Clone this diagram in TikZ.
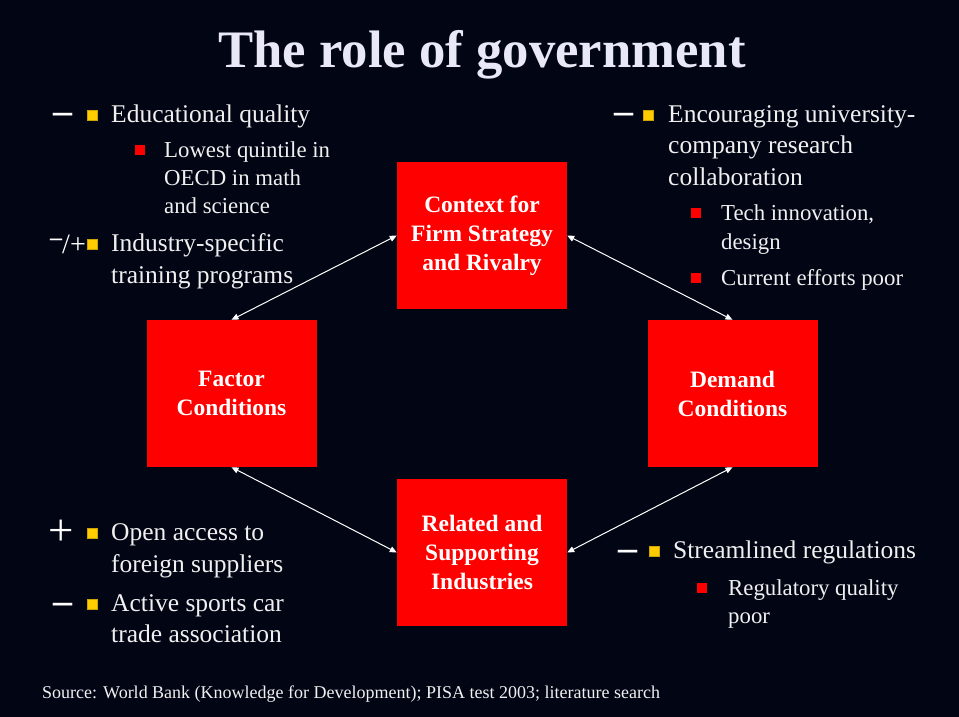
\documentclass[tikz,border=0pt]{standalone}
\usepackage{fontspec}
\setmainfont{Liberation Serif}
\usetikzlibrary{arrows.meta}
\definecolor{bg}{RGB}{2,5,20}
\definecolor{fg}{RGB}{240,240,240}
\definecolor{ttl}{RGB}{232,232,246}
\definecolor{yel}{RGB}{255,204,0}
\definecolor{rd}{RGB}{255,0,0}
\begin{document}
\begin{tikzpicture}[x=1pt,y=-1pt,
 box/.style={fill=rd, minimum width=170pt, minimum height=147pt, inner sep=0pt, text=white, font=\bfseries\fontsize{23.5}{29}\selectfont, align=center},
 mainline/.style={anchor=base west, inner sep=0pt, text=fg, font=\fontsize{25.5}{30}\selectfont},
 subline/.style={anchor=base west, inner sep=0pt, text=fg, font=\fontsize{22.8}{27}\selectfont},
 ybul/.style={fill=yel, draw=yel!80!black, line width=0.4pt, minimum size=9.5pt, inner sep=0pt},
 rbul/.style={fill=rd, minimum size=9.5pt, inner sep=0pt},
 sign/.style={anchor=base, inner sep=0pt, text=white, font=\bfseries\fontsize{38}{40}\selectfont},
 plussign/.style={anchor=base, inner sep=0pt, text=white, font=\fontsize{45}{46}\selectfont},
 link/.style={draw=white, line width=1pt, {Triangle[length=7pt,width=6pt]}-{Triangle[length=7pt,width=6pt]}}
]
\fill[bg] (0,0) rectangle (959,717);
\useasboundingbox (0,0) rectangle (959,717);

% title
\node[anchor=base, inner sep=0pt, text=ttl, font=\bfseries\fontsize{52.7}{56}\selectfont] (title) at (482,68) {The role of government};

% boxes
\node[box] (ctx) at (482,235.5) {Context for\\Firm Strategy\\and Rivalry};
\node[box] (fac) at (231.5,393.5) {Factor\\Conditions};
\node[box] (dem) at (732.5,393.5) {Demand\\Conditions};
\node[box] (rel) at (482,552.5) {Related and\\Supporting\\Industries};

% connectors
\draw[link] (fac.north) -- (ctx.west);
\draw[link] (ctx.east) -- (dem.north);
\draw[link] (fac.south) -- (rel.west);
\draw[link] (dem.south) -- (rel.east);

% top left
\node[sign] (s1) at (63,124) {–};
\node[ybul] (y1) at (92,115) {};
\node[mainline] (t1) at (111,122) {Educational quality};
\node[rbul] (r1) at (140,150) {};
\node[subline] (t1a) at (164,157) {Lowest quintile in};
\node[subline] (t1b) at (164,185) {OECD in math};
\node[subline] (t1c) at (164,213) {and science};
\node[anchor=base east, inner sep=0pt, text=white, font=\fontsize{28}{30}\selectfont] (s2) at (86,253) {\raisebox{8pt}{\bfseries\fontsize{24}{26}\selectfont –}/+};
\node[ybul] (y2) at (92,244) {};
\node[mainline] (t2) at (111,251) {Industry-specific};
\node[mainline] (t2b) at (111,283) {training programs};

% top right
\node[sign] (s3) at (624,124) {–};
\node[ybul] (y3) at (648,115) {};
\node[mainline] (t3) at (668,122) {Encouraging university-};
\node[mainline] (t3b) at (668,153) {company research};
\node[mainline] (t3c) at (668,185) {collaboration};
\node[rbul] (r3) at (696,213) {};
\node[subline] (t3d) at (721,220) {Tech innovation,};
\node[subline] (t3e) at (721,249) {design};
\node[rbul] (r4) at (696,278) {};
\node[subline] (t3f) at (721,285) {Current efforts poor};

% bottom left
\node[plussign] (s5) at (61,545) {+};
\node[ybul] (y5) at (92,533) {};
\node[mainline] (t5) at (111,540) {Open access to};
\node[mainline] (t5b) at (111,572) {foreign suppliers};
\node[sign] (s6) at (63,613) {–};
\node[ybul] (y6) at (92,604) {};
\node[mainline] (t6) at (111,611) {Active sports car};
\node[mainline] (t6b) at (111,642) {trade association};

% bottom right
\node[sign] (s7) at (628,560) {–};
\node[ybul] (y7) at (654,551) {};
\node[mainline] (t7) at (673,558) {Streamlined regulations};
\node[rbul] (r7) at (702,588) {};
\node[subline] (t7a) at (728,595) {Regulatory quality};
\node[subline] (t7b) at (728,623) {poor};

% footer
\node[anchor=base west, inner sep=0pt, text=fg, font=\fontsize{18}{20}\selectfont] (src) at (42,698) {Source: World Bank (Knowledge for Development); PISA test 2003; literature search};
\end{tikzpicture}
\end{document}
